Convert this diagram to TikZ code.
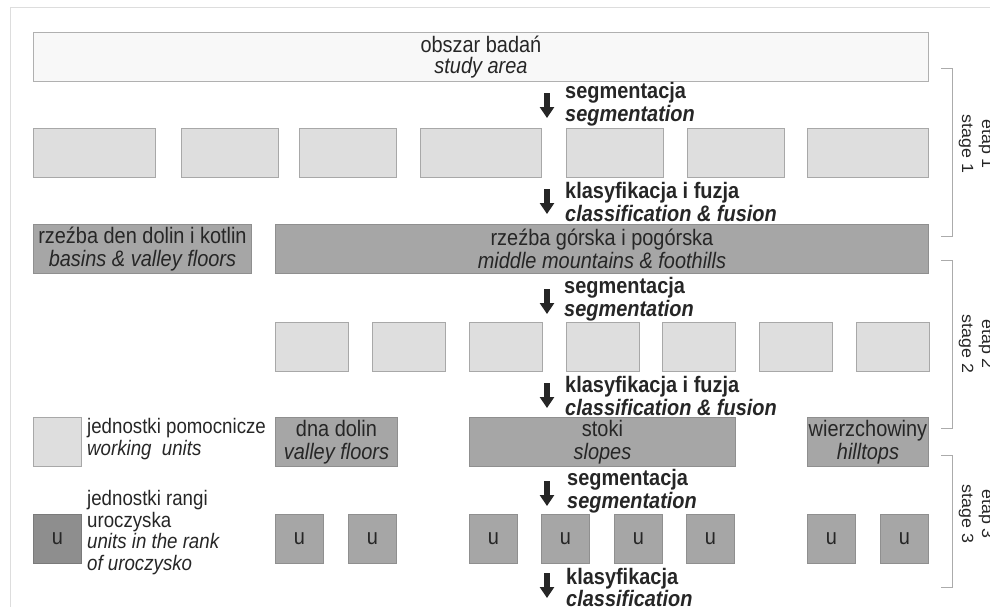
\documentclass[tikz,border=0pt]{standalone}
\usepackage{fontspec}
\setmainfont{Liberation Sans}[FakeStretch=0.89]
\newfontfamily\stagefont{Liberation Sans}[FakeStretch=1.1]
\usetikzlibrary{arrows.meta}
\definecolor{txt}{HTML}{262626}
\definecolor{frame}{HTML}{DDDDDD}
\definecolor{topfill}{HTML}{F8F8F8}
\definecolor{topdraw}{HTML}{B0B0B0}
\definecolor{wfill}{HTML}{DEDEDE}
\definecolor{wdraw}{HTML}{A8A8A8}
\definecolor{dfill}{HTML}{A6A6A6}
\definecolor{ddraw}{HTML}{8F8F8F}
\definecolor{ufill}{HTML}{8E8E8E}
\definecolor{udraw}{HTML}{7A7A7A}
\definecolor{brk}{HTML}{ABABAB}
\newcommand\mainsz{\fontsize{22.4}{22.5}\selectfont}
\newcommand\legsz{\fontsize{21}{21.7}\selectfont}
\tikzset{
  anybox/.style={line width=0.9pt, inner sep=0pt, anchor=north west, text=txt, font=\mainsz, align=center},
  topbox/.style={anybox, fill=topfill, draw=topdraw},
  wbox/.style={anybox, fill=wfill, draw=wdraw, minimum height=49pt},
  dbox/.style={anybox, fill=dfill, draw=ddraw, minimum height=49pt},
  ubox/.style={anybox, fill=dfill, draw=ddraw, minimum width=48pt, minimum height=49pt},
  legu/.style={anybox, fill=ufill, draw=udraw, minimum width=48pt, minimum height=49pt},
  steplabel/.style={anchor=west, align=left, text=txt, font=\mainsz\bfseries, inner sep=0pt},
  legtext/.style={anchor=west, align=left, text=txt, font=\legsz, inner sep=0pt},
  stagelabel/.style={rotate=-90, align=center, text=txt, font=\stagefont\fontsize{16.2}{20}\selectfont, inner sep=0pt},
  downarrow/.style={draw=txt, line width=6pt, -{Triangle[width=14pt,length=11pt]}},
  bracket/.style={draw=brk, line width=1pt}
}
\begin{document}
\begin{tikzpicture}[x=1pt,y=-1pt]
\useasboundingbox (0,0) rectangle (990,606);
\clip (0,0) rectangle (990,606);
% frame
\draw[frame, line width=1pt] (10,7) rectangle (1010,640);

% top box
\node[topbox, minimum width=895pt, minimum height=49pt, font=\fontsize{22.4}{20.5}\selectfont] (study) at (33,32) {obszar badań\\\textit{study area}};

% arrow 1 + label
\coordinate (a1s) at (547,93); \coordinate (a1e) at (547,118);
\draw[downarrow] (a1s) -- (a1e);
\node[steplabel] (l1) at (565,104) {segmentacja\\\textit{segmentation}};

% row 1 working units
\node[wbox, minimum width=122pt] (r1a) at (33,128) {};
\node[wbox, minimum width=97pt] (r1b) at (181,128) {};
\node[wbox, minimum width=97pt] (r1c) at (299,128) {};
\node[wbox, minimum width=121pt] (r1d) at (420,128) {};
\node[wbox, minimum width=97pt] (r1e) at (566,128) {};
\node[wbox, minimum width=97pt] (r1f) at (687,128) {};
\node[wbox, minimum width=121pt] (r1g) at (807,128) {};

% arrow 2 + label
\coordinate (a2s) at (547,189); \coordinate (a2e) at (547,214);
\draw[downarrow] (a2s) -- (a2e);
\node[steplabel] (l2) at (565,202) {klasyfikacja i fuzja\\\textit{classification \& fusion}};

% row 2
\node[dbox, minimum width=218pt] (basins) at (33,224) {rzeźba den dolin i kotlin\\\textit{basins \& valley floors}};
\node[dbox, minimum width=653pt] (mount) at (275,224) {rzeźba górska i pogórska\\\textit{middle mountains \& foothills}};

% arrow 3 + label
\coordinate (a3s) at (547,289); \coordinate (a3e) at (547,314);
\draw[downarrow] (a3s) -- (a3e);
\node[steplabel] (l3) at (564,299) {segmentacja\\\textit{segmentation}};

% row 3 working units
\foreach \xx/\nm in {275/a,372/b,469/c,566/d,662/e,759/f,856/g}{
  \node[wbox, minimum width=73pt] (r3\nm) at (\xx,322) {};
}

% arrow 4 + label
\coordinate (a4s) at (547,383); \coordinate (a4e) at (547,408);
\draw[downarrow] (a4s) -- (a4e);
\node[steplabel] (l4) at (565,396) {klasyfikacja i fuzja\\\textit{classification \& fusion}};

% row 4
\node[wbox, minimum width=48pt] (legw) at (33,417) {};
\node[legtext] (legwt) at (87,439) {jednostki pomocnicze\\\textit{working~ units}};
\node[dbox, minimum width=122pt] (dna) at (275,417) {dna dolin\\\textit{valley floors}};
\node[dbox, minimum width=266pt] (stoki) at (469,417) {stoki\\\textit{slopes}};
\node[dbox, minimum width=121pt] (wierz) at (807,417) {wierzchowiny\\\textit{hilltops}};

% arrow 5 + label
\coordinate (a5s) at (547,481); \coordinate (a5e) at (547,506);
\draw[downarrow] (a5s) -- (a5e);
\node[steplabel] (l5) at (567,491) {segmentacja\\\textit{segmentation}};

% row 5
\node[legu] (legu) at (33,514) {u};
\node[legtext] (legut) at (87,532.5) {jednostki rangi\\uroczyska\\\textit{units in the rank}\\\textit{of uroczysko}};
\foreach \xx/\nm in {275/a,348/b,469/c,541/d,614/e,686/f,807/g,880/h}{
  \node[ubox] (u\nm) at (\xx,514) {u};
}

% arrow 6 + label
\coordinate (a6s) at (547,573); \coordinate (a6e) at (547,598);
\draw[downarrow] (a6s) -- (a6e);
\node[steplabel] (l6) at (566,587.5) {klasyfikacja\\\textit{classification}};

% brackets
\coordinate (b1a) at (941,68); \coordinate (b1b) at (952,68);
\coordinate (b1c) at (952,236); \coordinate (b1d) at (941,236);
\draw[bracket] (b1a) -- (b1b) -- (b1c) -- (b1d);
\coordinate (b2a) at (941,260); \coordinate (b2b) at (952,260);
\coordinate (b2c) at (952,428); \coordinate (b2d) at (941,428);
\draw[bracket] (b2a) -- (b2b) -- (b2c) -- (b2d);
\coordinate (b3a) at (941,455); \coordinate (b3b) at (952,455);
\coordinate (b3c) at (952,587); \coordinate (b3d) at (941,587);
\draw[bracket] (b3a) -- (b3b) -- (b3c) -- (b3d);

% stage labels
\node[stagelabel] (s1) at (976,144) {etap 1\\stage 1};
\node[stagelabel] (s2) at (976,344) {etap 2\\stage 2};
\node[stagelabel] (s3) at (976,514) {etap 3\\stage 3};
\end{tikzpicture}
\end{document}
